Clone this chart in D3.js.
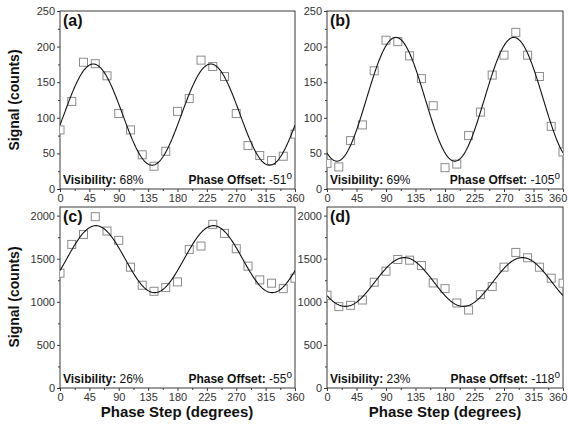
<!DOCTYPE html>
<html lang="en">
<head>
  <meta charset="UTF-8">
  <title>Phase stepping curves</title>
  <script src="https://cdn.jsdelivr.net/npm/d3@7"></script>
  <style>
    body { margin: 0; background: #fff; }
    svg { display: block; font-family: "Liberation Sans", Arial, sans-serif; }
  </style>
</head>
<body>
<svg class="chart"></svg>
<script>
  var svgWidth = 569;
  var svgHeight = 424;

  // phase steps (degrees)
  var steps = [0, 18, 36, 54, 72, 90, 108, 126, 144, 162, 180, 198, 216, 234, 252, 270, 288, 306, 324, 342, 360];

  // measured signal, one array per panel
  var signalA = [83, 123, 178, 176, 159, 106, 83, 48, 32, 53, 109, 127, 181, 172, 158, 106, 61, 47, 40, 46, 77];
  var signalB = [36, 31, 68, 90, 166, 209, 207, 187, 155, 117, 30, 35, 75, 108, 160, 188, 220, 188, 158, 88, 52];
  var signalC = [1332, 1666, 1782, 1988, 1821, 1713, 1402, 1192, 1122, 1165, 1231, 1608, 1647, 1899, 1794, 1616, 1414, 1254, 1216, 1153, 1274];
  var signalD = [1076, 944, 959, 1021, 1227, 1355, 1491, 1483, 1421, 1219, 1153, 986, 905, 1083, 1177, 1402, 1573, 1511, 1402, 1274, 1216];

  // fit results shown in each panel
  var panelLabels = ['(a)', '(b)', '(c)', '(d)'];
  var visibility = [68, 69, 26, 23];
  var phaseOffset = [-51, -105, -55, -118];
  var fitMean = [104.5, 126, 1495, 1230];

  var xTicks = [0, 45, 90, 135, 180, 225, 270, 315, 360];
  var yTicksTop = [0, 50, 100, 150, 200, 250];
  var yTicksBottom = [0, 500, 1000, 1500, 2000];

  var panels = [
    {label: panelLabels[0], data: signalA, vis: visibility[0], off: phaseOffset[0], mean: fitMean[0],
     x0: 60, x1: 295, top: 11, bottom: 189, yMax: 250, yTicks: yTicksTop, yMinor: 25},
    {label: panelLabels[1], data: signalB, vis: visibility[1], off: phaseOffset[1], mean: fitMean[1],
     x0: 327, x1: 563, top: 11, bottom: 189, yMax: 250, yTicks: yTicksTop, yMinor: 25},
    {label: panelLabels[2], data: signalC, vis: visibility[2], off: phaseOffset[2], mean: fitMean[2],
     x0: 60, x1: 295, top: 207, bottom: 388, yMax: 2100, yTicks: yTicksBottom, yMinor: 250},
    {label: panelLabels[3], data: signalD, vis: visibility[3], off: phaseOffset[3], mean: fitMean[3],
     x0: 327, x1: 563, top: 207, bottom: 388, yMax: 2100, yTicks: yTicksBottom, yMinor: 250}
  ];

  var svg = d3.select('.chart')
    .attr('width', svgWidth)
    .attr('height', svgHeight);

  var axisColor = '#3a3a3a';

  panels.forEach(function(p, i) {
    var x = d3.scaleLinear().domain([0, 360]).range([p.x0, p.x1]);
    var y = d3.scaleLinear().domain([0, p.yMax]).range([p.bottom, p.top]);

    var g = svg.append('g');

    // clip to plot area
    var clipId = 'clip' + i;
    svg.append('clipPath').attr('id', clipId)
      .append('rect')
      .attr('x', p.x0).attr('y', p.top)
      .attr('width', p.x1 - p.x0).attr('height', p.bottom - p.top);

    // minor ticks
    var xMinor = d3.range(22.5, 360, 45);
    var yMinor = d3.range(p.yMinor, p.yMax, p.yMinor * 2);

    var xAxis = d3.axisBottom(x).tickValues(xTicks).tickFormat(d3.format('d'))
      .tickSize(3).tickSizeOuter(0).tickPadding(2);
    var yAxis = d3.axisLeft(y).tickValues(p.yTicks).tickFormat(d3.format('d'))
      .tickSize(3).tickSizeOuter(0).tickPadding(2);

    var gx = g.append('g')
      .attr('transform', 'translate(0,' + p.bottom + ')')
      .call(xAxis);
    var gy = g.append('g')
      .attr('transform', 'translate(' + p.x0 + ',0)')
      .call(yAxis);

    // keep the last x label inside the page on the right panels
    if (p.x1 > svgWidth - 10) {
      gx.selectAll('.tick text')
        .filter(function(d) { return d === 360; })
        .attr('text-anchor', 'end')
        .attr('dx', '0.35em');
    }

    g.append('g')
      .attr('transform', 'translate(0,' + p.bottom + ')')
      .call(d3.axisBottom(x).tickValues(xMinor).tickSize(2).tickFormat('').tickSizeOuter(0))
      .select('.domain').remove();
    g.append('g')
      .attr('transform', 'translate(' + p.x0 + ',0)')
      .call(d3.axisLeft(y).tickValues(yMinor).tickSize(2).tickFormat('').tickSizeOuter(0))
      .select('.domain').remove();

    g.selectAll('.tick line').attr('stroke', axisColor);
    g.selectAll('.domain').remove();
    g.selectAll('.tick text')
      .attr('fill', '#333')
      .style('font-size', '11px')
      .style('font-family', '"Liberation Sans", Arial, sans-serif');

    // frame
    g.append('rect')
      .attr('x', p.x0).attr('y', p.top)
      .attr('width', p.x1 - p.x0).attr('height', p.bottom - p.top)
      .attr('fill', 'none')
      .attr('stroke', axisColor)
      .attr('stroke-width', 1);

    var plot = g.append('g').attr('clip-path', 'url(#' + clipId + ')');

    // data squares
    plot.selectAll('rect.pt')
      .data(p.data)
      .enter()
      .append('rect')
      .attr('class', 'pt')
      .attr('x', function(d, k) { return x(steps[k]) - 4; })
      .attr('y', function(d) { return y(d) - 4; })
      .attr('width', 8)
      .attr('height', 8)
      .attr('fill', '#fff')
      .attr('stroke', '#8c8c8c')
      .attr('stroke-width', 1);

    // fitted sinusoid from mean, visibility and phase offset
    var fitX = d3.range(0, 360.5, 1);
    var line = d3.line()
      .x(function(d) { return x(d); })
      .y(function(d) {
        return y(p.mean * (1 + p.vis / 100 * Math.cos(2 * Math.PI * (d + p.off) / 180)));
      });
    plot.append('path')
      .datum(fitX)
      .attr('d', line)
      .attr('fill', 'none')
      .attr('stroke', '#111')
      .attr('stroke-width', 1.1);

    // panel label
    g.append('text')
      .attr('x', p.x0 + 3)
      .attr('y', p.top + 15)
      .attr('font-size', 16)
      .attr('font-weight', 'bold')
      .attr('fill', '#111')
      .text(p.label);

    // visibility
    var vt = g.append('text')
      .attr('x', p.x0 + 3)
      .attr('y', p.bottom - 5)
      .attr('font-size', 12)
      .attr('fill', '#111');
    vt.append('tspan').attr('font-weight', 'bold').text('Visibility: ');
    vt.append('tspan').text(p.vis + '%');

    // phase offset
    var pt = g.append('text')
      .attr('x', p.x1 - 3)
      .attr('y', p.bottom - 5)
      .attr('text-anchor', 'end')
      .attr('font-size', 12)
      .attr('fill', '#111');
    pt.append('tspan').attr('font-weight', 'bold').text('Phase Offset: ');
    pt.append('tspan').text(p.off);
    pt.append('tspan').attr('dy', -5).attr('font-size', 10).text('o');
  });

  // y axis titles
  [100, 297].forEach(function(cy) {
    svg.append('text')
      .attr('transform', 'translate(19,' + cy + ') rotate(-90)')
      .attr('text-anchor', 'middle')
      .attr('font-size', 14)
      .attr('font-weight', 'bold')
      .attr('fill', '#111')
      .text('Signal (counts)');
  });

  // x axis titles
  [177, 445].forEach(function(cx) {
    svg.append('text')
      .attr('x', cx)
      .attr('y', 417)
      .attr('text-anchor', 'middle')
      .attr('font-size', 15)
      .attr('font-weight', 'bold')
      .attr('fill', '#111')
      .text('Phase Step (degrees)');
  });
</script>
</body>
</html>
